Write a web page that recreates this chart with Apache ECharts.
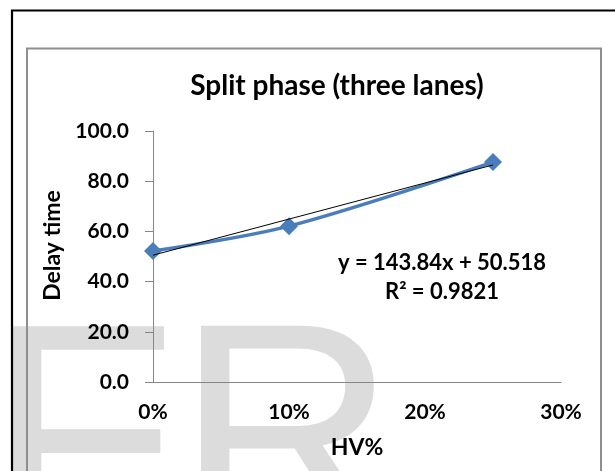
<!DOCTYPE html>
<html>
<head>
<meta charset="utf-8">
<script src="https://cdn.jsdelivr.net/npm/echarts@6/dist/echarts.min.js"></script>
<style>
  html, body { margin: 0; padding: 0; background: #ffffff; }
  #chart { width: 615px; height: 471px; }
</style>
</head>
<body>
<div id="chart"></div>
<script>
// Heavy-vehicle share (fraction) and measured delay time
const hvShare = [0, 0.10, 0.25];
const delayTime = [52.2, 62.1, 87.6];

// Linear trendline coefficients as reported on the chart
const trendSlope = 143.84;
const trendIntercept = 50.518;
const trendR2 = 0.9821;

// Axis tick settings
const xTicks = [0, 0.1, 0.2, 0.3];
const yTicks = [0, 20, 40, 60, 80, 100];

const chartTitle = 'Split phase (three lanes)';
const xName = 'HV%';
const yName = 'Delay time';
const watermark = ['F', 'R'];

const FONT = 'Lato, "Open Sans", sans-serif';

const points = hvShare.map((x, i) => [x, delayTime[i]]);
const xFirst = Math.min(...hvShare);
const xLast = Math.max(...hvShare);
const trendData = [xFirst, xLast].map(x => [x, trendIntercept + trendSlope * x]);

const eqLine1 = 'y = ' + trendSlope.toFixed(2) + 'x + ' + trendIntercept.toFixed(3);
const eqLine2 = 'R\u00B2 = ' + trendR2.toFixed(4);

const chart = echarts.init(document.getElementById('chart'), null, { renderer: 'canvas' });

chart.setOption({
  backgroundColor: '#ffffff',
  animation: false,
  title: {
    text: chartTitle,
    left: 332,
    top: 67,
    textAlign: 'center',
    textStyle: { fontFamily: FONT, fontWeight: 'bold', fontSize: 28, color: '#000' }
  },
  grid: { left: 153, right: 54, top: 131, bottom: 89, containLabel: false },
  xAxis: {
    type: 'value',
    min: xTicks[0],
    max: xTicks[xTicks.length - 1],
    interval: 0.1,
    name: xName,
    nameLocation: 'middle',
    nameGap: 54,
    nameTextStyle: { fontFamily: FONT, fontWeight: 'bold', fontSize: 23, color: '#000' },
    axisLine: { show: true, lineStyle: { color: '#868686', width: 1 } },
    axisTick: { show: false },
    splitLine: { show: false },
    axisLabel: {
      margin: 20,
      fontFamily: FONT, fontWeight: 'bold', fontSize: 21, color: '#000',
      formatter: v => Math.round(v * 100) + '%'
    }
  },
  yAxis: {
    type: 'value',
    min: yTicks[0],
    max: yTicks[yTicks.length - 1],
    interval: 20,
    name: yName,
    nameLocation: 'middle',
    nameRotate: 90,
    nameGap: 73,
    nameTextStyle: { fontFamily: FONT, fontWeight: 'bold', fontSize: 23, color: '#000', padding: [0, 0, 0, 22] },
    axisLine: { show: true, lineStyle: { color: '#868686', width: 1 } },
    axisTick: { show: true, inside: false, length: 8, lineStyle: { color: '#868686' } },
    splitLine: { show: false },
    axisLabel: {
      margin: 24,
      fontFamily: FONT, fontWeight: 'bold', fontSize: 21, color: '#000',
      formatter: v => v.toFixed(1)
    }
  },
  graphic: [
    // faint watermark letters behind the plot
    {
      type: 'text', z: -10, left: -13, top: 299, silent: true,
      style: { text: watermark[0], font: '310px "Liberation Sans", Arial, sans-serif', fill: '#dcdcdc' }
    },
    {
      type: 'text', z: -10, left: 176, top: 299, silent: true,
      style: { text: watermark[1], font: '305px "Liberation Sans", Arial, sans-serif', fill: '#dcdcdc' }
    },
    // outer black border (top and left edges)
    {
      type: 'rect', z: 5, silent: true,
      shape: { x: 12, y: 10.5, width: 800, height: 800 },
      style: { fill: 'none', stroke: '#000', lineWidth: 2.2 }
    },
    // chart area frame
    {
      type: 'rect', z: 5, silent: true,
      shape: { x: 27, y: 48.5, width: 574, height: 800 },
      style: { fill: 'none', stroke: '#8e8e8e', lineWidth: 2 }
    },
    // trendline equation
    {
      type: 'text', z: 10, x: 442, y: 263, silent: true,
      style: { text: eqLine1, fontFamily: FONT, fontWeight: 'bold', fontSize: 22, fill: '#000', align: 'center', verticalAlign: 'middle' }
    },
    {
      type: 'text', z: 10, x: 442, y: 292, silent: true,
      style: { text: eqLine2, fontFamily: FONT, fontWeight: 'bold', fontSize: 22, fill: '#000', align: 'center', verticalAlign: 'middle' }
    }
  ],
  series: [
    {
      name: 'Delay time',
      type: 'line',
      data: points,
      smooth: 0.3,
      symbol: 'diamond',
      symbolSize: 18,
      lineStyle: { color: '#4A7EBB', width: 3.5 },
      itemStyle: { color: '#4A7EBB' },
      z: 3
    },
    {
      name: 'Linear trend',
      type: 'line',
      data: trendData,
      symbol: 'none',
      lineStyle: { color: '#000', width: 1 },
      z: 4
    }
  ]
});
</script>
</body>
</html>
